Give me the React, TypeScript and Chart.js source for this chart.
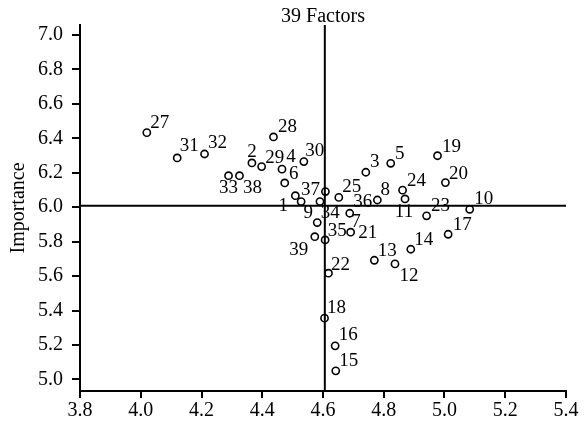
import { useEffect, useRef } from "react";
import { Chart, registerables } from "chart.js";

Chart.register(...registerables);

const chartTitle = "39 Factors";
const yAxisTitle = "Importance";

const factorIds = [1, 2, 3, 4, 5, 6, 7, 8, 9, 10, 11, 12, 13, 14, 15, 16, 17, 18, 19, 20, 21, 22, 23, 24, 25, 27, 28, 29, 30, 31, 32, 33, 34, 35, 36, 37, 38, 39];
const performance = [4.509, 4.366, 4.741, 4.465, 4.823, 4.474, 4.590, 4.779, 4.528, 5.083, 4.870, 4.837, 4.769, 4.889, 4.642, 4.640, 5.012, 4.605, 4.977, 5.003, 4.691, 4.618, 4.941, 4.862, 4.652, 4.020, 4.437, 4.398, 4.537, 4.120, 4.210, 4.289, 4.581, 4.607, 4.688, 4.608, 4.325, 4.573];
const importance = [6.067, 6.257, 6.203, 6.221, 6.255, 6.141, 6.033, 6.042, 6.033, 5.988, 6.048, 5.671, 5.692, 5.756, 5.050, 5.195, 5.843, 5.356, 6.299, 6.143, 5.855, 5.617, 5.950, 6.099, 6.057, 6.433, 6.408, 6.236, 6.265, 6.286, 6.309, 6.183, 5.911, 5.810, 5.965, 6.091, 6.183, 5.829];

// label placement (pixel offset of each number from its marker)
const labelOffsets: [number, number][] = [
  [-12, 10], [0, -11], [9, -10], [9, -12], [9, -9], [9, -9], [36, 20], [8, -10], [7, 11], [14, -10],
  [-1, 13], [14, 12], [13, -9], [13, -9], [13, -9.5], [13, -11], [14, -9], [12, -10], [14, -9], [13, -9],
  [17, 1], [12, -8], [14, -10], [14, -9], [13, -10.5], [13, -10], [14, -10], [13, -9], [11, -11], [12, -12],
  [13, -10.5], [0, 12], [13, -10], [12, -9], [13, -11], [-15, -2], [13, 12], [-16, 13],
];

const xTicks = [3.8, 4.0, 4.2, 4.4, 4.6, 4.8, 5.0, 5.2, 5.4];
const yTicks = [5.0, 5.2, 5.4, 5.6, 5.8, 6.0, 6.2, 6.4, 6.6, 6.8, 7.0];
const xRange = [3.8, 5.4];
const yRange = [4.933, 7.058];
const meanPerformance = 4.606;
const meanImportance = 6.009;

const serif = '"Liberation Serif", "Times New Roman", serif';

export default function App() {
  const ref = useRef<HTMLCanvasElement>(null);

  useEffect(() => {
    if (!ref.current) return;
    const labelPlugin = {
      id: "pointLabels",
      afterDatasetsDraw(chart: any) {
        const ctx = chart.ctx;
        const meta = chart.getDatasetMeta(2);
        ctx.save();
        ctx.font = `19px ${serif}`;
        ctx.fillStyle = "#000";
        ctx.textAlign = "center";
        ctx.textBaseline = "middle";
        meta.data.forEach((el: any, i: number) => {
          const [dx, dy] = labelOffsets[i];
          ctx.fillText(String(factorIds[i]), el.x + dx, el.y + dy);
        });
        ctx.restore();
      },
    };

    const tickFont = { family: serif, size: 20 };
    const chart = new Chart(ref.current, {
      type: "scatter",
      data: {
        datasets: [
          {
            data: [
              { x: xRange[0], y: meanImportance },
              { x: xRange[1], y: meanImportance },
            ],
            showLine: true,
            borderColor: "#000",
            borderWidth: 2,
            pointRadius: 0,
          },
          {
            data: [
              { x: meanPerformance, y: yRange[0] },
              { x: meanPerformance, y: yRange[1] },
            ],
            showLine: true,
            borderColor: "#000",
            borderWidth: 2,
            pointRadius: 0,
          },
          {
            data: factorIds.map((_, i) => ({ x: performance[i], y: importance[i] })),
            pointRadius: 3.6,
            borderWidth: 1.6,
            borderColor: "#000",
            backgroundColor: "rgba(0,0,0,0)",
          },
        ],
      },
      options: {
        responsive: false,
        animation: false,
        layout: { padding: { left: 0, right: 20, top: 0, bottom: 1 } },
        plugins: {
          legend: { display: false },
          tooltip: { enabled: false },
          title: {
            display: true,
            text: chartTitle,
            fullSize: false,
            color: "#000",
            font: { family: serif, size: 20, weight: "normal", lineHeight: 0.825 },
            padding: { top: 8.5, bottom: 0 },
          },
        },
        scales: {
          x: {
            type: "linear",
            min: xRange[0],
            max: xRange[1],
            afterBuildTicks: (s: any) => {
              s.ticks = xTicks.map((v) => ({ value: v }));
            },
            ticks: {
              callback: (v: any) => Number(v).toFixed(1),
              color: "#000",
              font: { family: serif, size: 20, lineHeight: 1.1 },
              padding: 2,
              maxRotation: 0,
              autoSkip: false,
            },
            grid: { drawOnChartArea: false, drawTicks: true, tickLength: 7, color: "#000", lineWidth: 2 },
            border: { display: true, color: "#000", width: 2 },
          },
          y: {
            type: "linear",
            min: yRange[0],
            max: yRange[1],
            afterBuildTicks: (s: any) => {
              s.ticks = yTicks.map((v) => ({ value: v }));
            },
            ticks: {
              callback: (v: any) => Number(v).toFixed(1),
              color: "#000",
              font: tickFont,
              padding: 9,
              autoSkip: false,
            },
            grid: { drawOnChartArea: false, drawTicks: true, tickLength: 8, color: "#000", lineWidth: 2 },
            border: { display: true, color: "#000", width: 2 },
            title: {
              display: true,
              text: yAxisTitle,
              color: "#000",
              font: { family: serif, size: 20, lineHeight: 1 },
              padding: { top: 9, bottom: 0 },
            },
          },
        },
      },
      plugins: [labelPlugin],
    } as any);
    return () => chart.destroy();
  }, []);

  return (
    <div style={{ position: "absolute", left: 0, top: 0, width: 586, height: 425, background: "#fff" }}>
      <canvas ref={ref} width={586} height={425} style={{ display: "block", width: 586, height: 425 }} />
    </div>
  );
}
